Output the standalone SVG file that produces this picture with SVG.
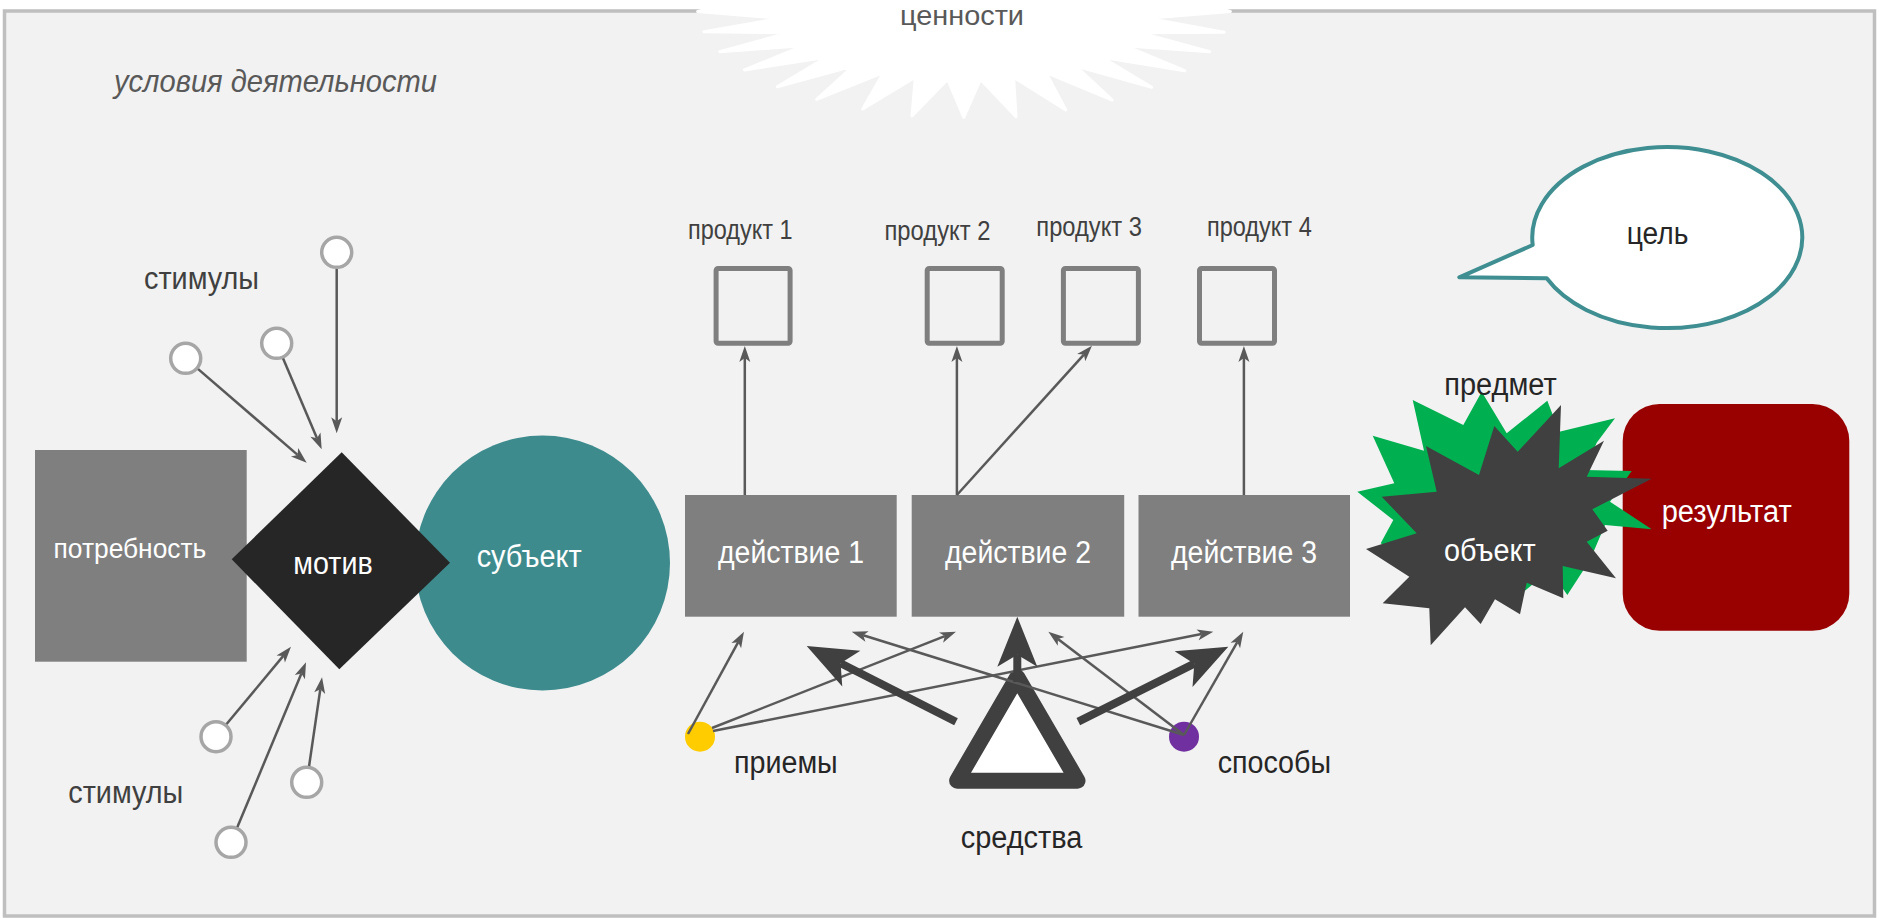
<svg xmlns="http://www.w3.org/2000/svg" width="1879" height="918" viewBox="0 0 1879 918">
<defs>
<style>
.t{font-family:"Liberation Sans",Arial,sans-serif;}
.dk{fill:#262626;}
.gr{fill:#404040;}
.wh{fill:#ffffff;}
.stim{fill:#ffffff;stroke:#a6a6a6;stroke-width:3.5;}
.prod{fill:none;stroke:#7f7f7f;stroke-width:5;}
.act{fill:#7f7f7f;}
.thin line{stroke:#595959;stroke-width:2.5;fill:none;marker-end:url(#ah);}
.thick line{stroke:#404040;stroke-width:8;fill:none;marker-end:url(#ahb);}
</style>
<marker id="ah" viewBox="-17 -7 18 14" refX="-12" refY="0" markerWidth="18" markerHeight="14" markerUnits="userSpaceOnUse" orient="auto"><path d="M0,0 L-16,-5.5 L-12,0 L-16,5.5 Z" fill="#595959"/></marker>
<marker id="ahb" viewBox="-52 -22 54 44" refX="-38" refY="0" markerWidth="54" markerHeight="44" markerUnits="userSpaceOnUse" orient="auto"><path d="M0,0 L-50,-20 L-38,0 L-50,20 Z" fill="#404040"/></marker>
</defs>
<rect x="0" y="0" width="1879" height="918" fill="#ffffff"/>
<rect id="background" x="4.5" y="11" width="1870" height="905" fill="#f2f2f2" stroke="#bfbfbf" stroke-width="3.5"/>

<g id="values">
<polygon fill="#ffffff" stroke="#ffffff" stroke-width="3" stroke-linejoin="round" points="740,0 697.7,11.5 780.6,18.3 703.9,31.7 788.9,32.7 719.7,51.7 803.4,45.7 744.5,70 826.2,57.3 777.3,86.7 853.2,66 816.7,99.3 883.4,72.7 862.7,109 915.3,77.3 912,116 947.7,79.3 963.8,117.3 980.4,79.3 1016,116.7 1013.6,77.3 1065.8,110 1046,72.7 1112.3,100 1075.8,66 1151.7,87.3 1101.9,57.3 1184.8,70.7 1124.7,45.7 1209.7,51.7 1140,32.7 1224.2,32.3 1147.5,18.3 1230.4,11.5 1190,0"/>
<text class="t" x="900" y="24.5" font-size="27" fill="#595959" textLength="124" lengthAdjust="spacingAndGlyphs">ценности</text>
</g>

<g id="conditions">
<text class="t" x="114" y="92" font-size="32" font-style="italic" fill="#595959" textLength="323" lengthAdjust="spacingAndGlyphs">условия деятельности</text>
</g>

<g id="stimuli-top">
<text class="t gr" x="144" y="289.3" font-size="31" textLength="115" lengthAdjust="spacingAndGlyphs">стимулы</text>
<circle class="stim" cx="336.7" cy="252.3" r="15"/>
<circle class="stim" cx="276.7" cy="343.3" r="15"/>
<circle class="stim" cx="185.7" cy="358.3" r="15"/>
</g>
<g id="stimuli-bottom">
<text class="t gr" x="68.3" y="802.7" font-size="31" textLength="115" lengthAdjust="spacingAndGlyphs">стимулы</text>
<circle class="stim" cx="216" cy="736.7" r="15"/>
<circle class="stim" cx="231" cy="842.3" r="15"/>
<circle class="stim" cx="306.7" cy="782.3" r="15"/>
</g>

<g id="need">
<rect x="35" y="450" width="211.7" height="211.7" fill="#7f7f7f"/>
<text class="t wh" x="53.6" y="558.3" font-size="28" textLength="152.7" lengthAdjust="spacingAndGlyphs">потребность</text>
</g>

<g id="subject">
<circle cx="542.5" cy="563" r="127.5" fill="#3e8b8e"/>
<text class="t wh" x="476.7" y="566.7" font-size="31" textLength="105" lengthAdjust="spacingAndGlyphs">субъект</text>
</g>

<g id="motive">
<polygon points="341.7,452.3 450,562.7 339.3,669.3 231.7,559.3" fill="#262626"/>
<text class="t wh" x="293.3" y="574" font-size="31" textLength="79.4" lengthAdjust="spacingAndGlyphs">мотив</text>
</g>

<g id="product-1">
<rect class="prod" x="716.1" y="268.5" width="74" height="74.7" rx="2"/>
<text class="t gr" x="688" y="239.3" font-size="27" textLength="104.6" lengthAdjust="spacingAndGlyphs">продукт 1</text>
</g>
<g id="product-2">
<rect class="prod" x="927.2" y="268.5" width="75" height="74.7" rx="2"/>
<text class="t gr" x="884.5" y="240" font-size="27" textLength="105.9" lengthAdjust="spacingAndGlyphs">продукт 2</text>
</g>
<g id="product-3">
<rect class="prod" x="1063.4" y="268.5" width="75" height="74.7" rx="2"/>
<text class="t gr" x="1036.3" y="236" font-size="27" textLength="105.7" lengthAdjust="spacingAndGlyphs">продукт 3</text>
</g>
<g id="product-4">
<rect class="prod" x="1199.5" y="268.5" width="75" height="74.7" rx="2"/>
<text class="t gr" x="1206.9" y="236" font-size="27" textLength="104.9" lengthAdjust="spacingAndGlyphs">продукт 4</text>
</g>

<g id="action-1">
<rect class="act" x="685" y="495" width="211.7" height="121.7"/>
<text class="t wh" x="718" y="563" font-size="31" textLength="146" lengthAdjust="spacingAndGlyphs">действие 1</text>
</g>
<g id="action-2">
<rect class="act" x="911.7" y="495" width="212.5" height="121.7"/>
<text class="t wh" x="945" y="563" font-size="31" textLength="146" lengthAdjust="spacingAndGlyphs">действие 2</text>
</g>
<g id="action-3">
<rect class="act" x="1138.5" y="495" width="211.5" height="121.7"/>
<text class="t wh" x="1171" y="563" font-size="31" textLength="146" lengthAdjust="spacingAndGlyphs">действие 3</text>
</g>

<g id="techniques">
<circle cx="700" cy="736.7" r="15" fill="#ffcc00"/>
<text class="t dk" x="734" y="772.7" font-size="31" textLength="103.7" lengthAdjust="spacingAndGlyphs">приемы</text>
</g>
<g id="methods">
<circle cx="1184" cy="736.7" r="15" fill="#7030a0"/>
<text class="t dk" x="1217.7" y="772.7" font-size="31" textLength="113.3" lengthAdjust="spacingAndGlyphs">способы</text>
</g>
<g id="means">
<polygon points="1017.3,677.4 1077.5,780.7 957.1,780.7" fill="#ffffff" stroke="#404040" stroke-width="16" stroke-linejoin="round"/>
<text class="t dk" x="960.7" y="848.3" font-size="31" textLength="121.6" lengthAdjust="spacingAndGlyphs">средства</text>
</g>

<g id="goal">
<path d="M1532.7,245 L1459.3,277.3 L1546.7,278.3 A135,90.5 0 1 0 1532.7,245 Z" fill="#ffffff" stroke="#3f8e91" stroke-width="4" stroke-linejoin="round"/>
<text class="t dk" x="1626.7" y="244" font-size="31" textLength="61.6" lengthAdjust="spacingAndGlyphs">цель</text>
</g>

<g id="result">
<rect x="1622.7" y="404" width="226.6" height="226.7" rx="37" fill="#990000"/>
<text class="t wh" x="1661.7" y="521.7" font-size="31" textLength="130" lengthAdjust="spacingAndGlyphs">результат</text>
</g>

<g id="subject-matter">
<polygon fill="#00b050" points="1481.7,391.7 1506.7,433.3 1547.3,400.7 1559.3,431.7 1615,418.3 1596.7,442.7 1585,470 1631.7,471 1610,501.7 1651.7,529.3 1605,525 1590,560 1567.3,595 1550,570 1510,603 1490,583 1450,610 1443,583 1380.7,543.3 1393.3,520 1357.3,491.7 1394.3,483.3 1372.7,435.7 1424,450.7 1412.7,400 1463.3,425"/>
</g>
<g id="object">
<polygon fill="#404040" points="1561,405 1558.7,468.3 1604,440.7 1586.7,476.7 1651.7,478.7 1592.3,509.3 1607.7,530.7 1586.7,541.7 1616,578.3 1562.7,566 1563.3,598.3 1526.7,582.7 1520,614.3 1495,599.3 1480.7,624 1465,607.3 1430.7,645.3 1429.3,608.3 1382.7,603.3 1409.3,576.7 1366,549 1416.7,533.3 1381.7,496.7 1436.7,491.7 1426,446 1479,475 1494.3,426 1517.7,451.7"/>
<text class="t wh" x="1444" y="560.7" font-size="31" textLength="91.7" lengthAdjust="spacingAndGlyphs">объект</text>
</g>
<g id="subject-matter-label">
<text class="t dk" x="1444.3" y="395" font-size="31" textLength="112.4" lengthAdjust="spacingAndGlyphs">предмет</text>
</g>

<g id="connectors">
<g class="thin">
<line x1="336.7" y1="269" x2="336.7" y2="421.3"/>
<line x1="283.1" y1="358.5" x2="317" y2="438.3"/>
<line x1="198.2" y1="369.1" x2="297.6" y2="454.9"/>
<line x1="226.6" y1="724" x2="283.3" y2="655.9"/>
<line x1="237.4" y1="827.1" x2="301.4" y2="673.4"/>
<line x1="309.1" y1="766" x2="320.3" y2="689.2"/>
<line x1="744.8" y1="495" x2="744.8" y2="358"/>
<line x1="956.9" y1="495" x2="956.9" y2="358"/>
<line x1="956.9" y1="495" x2="1083.9" y2="354.6"/>
<line x1="1243.9" y1="495" x2="1243.9" y2="358"/>
<line x1="688" y1="734" x2="738.2" y2="642.2"/>
<line x1="712" y1="728" x2="944.8" y2="636.1"/>
<line x1="713" y1="731" x2="1201.5" y2="634"/>
<line x1="1184" y1="735" x2="863.2" y2="635.3"/>
<line x1="1184" y1="735" x2="1057.9" y2="639"/>
<line x1="1184" y1="735" x2="1237.3" y2="642.1"/>
</g>
<g class="thick">
<line x1="956" y1="721.7" x2="840.6" y2="663.2"/>
<line x1="1078.3" y1="721.7" x2="1194.3" y2="663.7"/>
<line x1="1017.3" y1="682" x2="1017.3" y2="654.7"/>
</g>
</g>
</svg>
